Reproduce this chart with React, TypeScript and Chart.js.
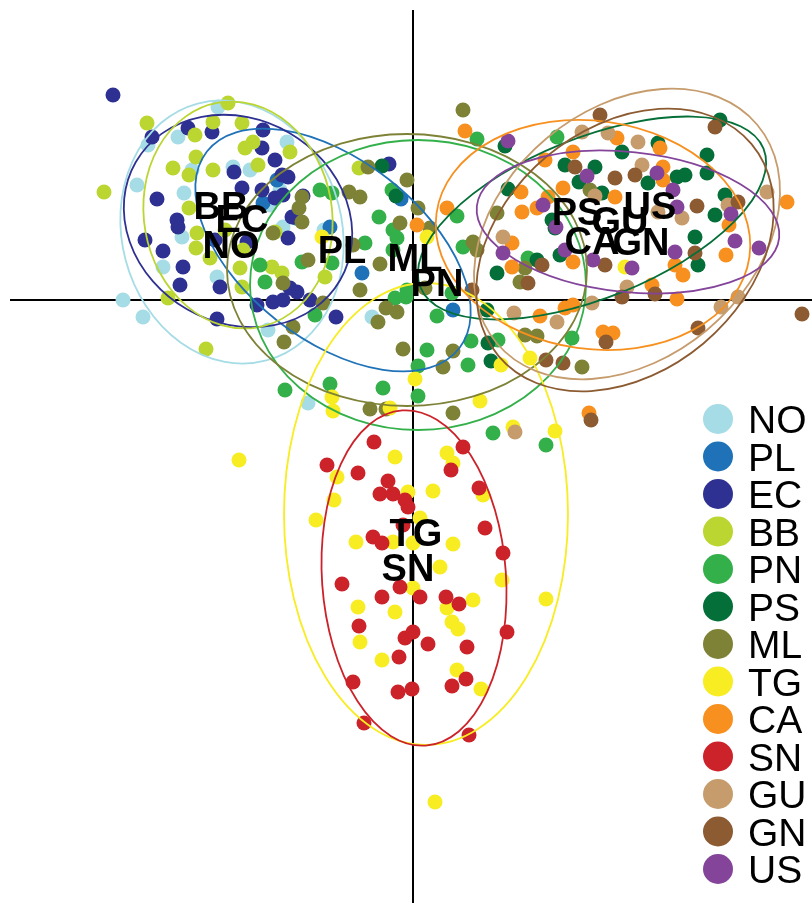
import React, { useEffect, useRef } from "react";
import { Chart, registerables } from "chart.js";

Chart.register(...registerables);

// Discriminant scores (first two axes) per population
const groupNames = ["NO", "PL", "EC", "BB", "PN", "PS", "ML", "TG", "CA", "SN", "GU", "GN", "US"];
const groupColors = [
  "#A6DCE5", "#1F72B8", "#2E3192", "#BBD531", "#33B04A", "#046F38", "#7E8237",
  "#F8EC22", "#F7901E", "#CC2229", "#C69C6D", "#8C5B32", "#83449A",
];

const NO = [[-290,0],[-270,-17],[-276,115],[-265,155],[-235,163],[-195,193],[-221,130],[-229,107],[-180,133],[-163,130],[-126,158],[-133,110],[-231,63],[-250,33],[-196,23],[-145,-30],[-105,-103],[-41,-17],[-89,70],[-130,73],[-143,95]];
const PL = [[-136,120],[-83,73],[-51,27],[-12,101],[40,-10],[-150,97],[-117,82]];
const EC = [[-300,205],[-261,163],[-225,172],[-150,170],[-151,152],[-138,140],[-179,128],[-131,125],[-125,123],[-151,110],[-171,112],[-256,101],[-138,102],[-130,105],[-121,83],[-236,80],[-235,73],[-268,60],[-250,49],[-166,58],[-125,62],[-230,33],[-123,12],[-116,8],[-193,13],[-233,15],[-156,-5],[-140,-2],[-130,0],[-103,0],[-196,-19],[-77,-17],[-24,136],[-201,168],[-110,104],[-198,60]];
const BB = [[-266,177],[-185,197],[-200,178],[-218,165],[-171,177],[-160,158],[-168,152],[-123,148],[-155,135],[-217,143],[-240,132],[-224,125],[-200,130],[-309,108],[-224,92],[-216,67],[-217,52],[-203,42],[-138,68],[-173,32],[-141,33],[-131,27],[-245,2],[-171,13],[-88,23],[-207,-49],[-54,132],[-170,50],[-188,70]];
const PN = [[-93,110],[-81,107],[-111,38],[-153,35],[-148,18],[-98,-15],[-128,-90],[-21,110],[-34,83],[-20,70],[-16,62],[-48,57],[-20,50],[-81,37],[-6,10],[-18,2],[-7,3],[24,-16],[39,7],[14,-50],[58,-41],[85,-40],[5,-66],[55,-65],[-83,-84],[-30,-88],[5,-96],[80,-133],[133,-145],[44,84],[64,161],[50,53],[144,163],[115,42],[159,-38]];
const PS = [[-31,134],[-17,104],[92,154],[84,27],[74,-10],[75,-43],[78,-61],[152,135],[182,133],[166,118],[189,107],[95,111],[139,80],[142,72],[147,45],[124,40],[209,148],[307,180],[245,157],[294,145],[264,123],[272,125],[294,127],[235,117],[312,105],[302,85],[282,63],[285,35]];
const ML = [[50,190],[-45,133],[-6,120],[-64,108],[-53,103],[5,92],[-13,77],[17,72],[-60,55],[-111,103],[-114,92],[-111,78],[-140,67],[-105,40],[-130,17],[-90,-3],[-120,-27],[-129,-42],[-33,36],[-53,10],[12,12],[-35,-22],[-27,-8],[-16,-12],[-10,-49],[40,-51],[30,-67],[-43,-109],[-27,-109],[40,-113],[60,58],[64,50],[84,87],[107,18],[112,-35],[124,-36],[169,-67],[177,110],[112,32]];
const TG = [[-91,63],[14,63],[2,-79],[-81,-97],[-80,-111],[-23,-108],[67,-101],[88,-65],[117,-58],[100,-127],[142,-131],[-174,-160],[-18,-157],[34,-153],[40,-163],[-76,-177],[-5,-192],[20,-191],[70,-195],[-79,-200],[-97,-220],[7,-218],[-57,-242],[-20,-242],[0,-243],[40,-244],[27,-267],[0,-288],[89,-280],[60,-300],[133,-299],[-55,-307],[-18,-312],[34,-308],[39,-322],[45,-329],[-53,-342],[-31,-360],[44,-370],[68,-389],[22,-502],[212,33]];
const CA = [[52,169],[34,92],[4,75],[160,148],[132,140],[150,112],[202,103],[204,162],[108,108],[135,103],[124,92],[109,88],[99,57],[160,38],[99,33],[127,-16],[152,-8],[160,-5],[190,-32],[200,-33],[239,15],[264,1],[247,152],[250,133],[250,120],[374,98],[316,75],[313,45],[262,35],[270,25],[176,-113]];
const SN = [[-39,-142],[50,-147],[-86,-165],[38,-170],[-55,-173],[-25,-181],[-33,-194],[-20,-194],[-8,-200],[-5,-207],[66,-188],[-10,-225],[72,-228],[-40,-237],[-31,-243],[90,-253],[-71,-284],[-13,-287],[-31,-297],[7,-297],[33,-297],[46,-304],[-54,-326],[-8,-338],[0,-332],[15,-344],[54,-347],[94,-332],[-14,-357],[53,-379],[39,-386],[-60,-382],[-15,-392],[-1,-389],[-49,-423],[56,-435]];
const GU = [[169,168],[195,167],[90,63],[225,158],[229,135],[354,108],[315,95],[269,82],[214,13],[325,3],[101,-13],[144,-22],[179,-3],[308,-7],[102,-132],[182,104],[245,88]];
const GN = [[187,185],[302,173],[162,133],[202,122],[222,125],[192,35],[129,35],[115,17],[59,10],[209,3],[242,6],[325,98],[284,94],[282,47],[389,-14],[285,-28],[193,-42],[133,-60],[150,-63],[178,-120]];
const US = [[95,159],[174,124],[130,95],[143,73],[90,47],[152,50],[180,40],[244,127],[260,110],[318,86],[264,93],[322,59],[346,52],[262,48],[219,32]];

const groupPoints = [NO, PL, EC, BB, PN, PS, ML, TG, CA, SN, GU, GN, US];

// Inertia ellipses: centre x, centre y, half-axis x, half-axis y, rotation (degrees, counter-clockwise)
const ellipseCx = [-181, -80, -175, -175, 5, 179, -6, 13, 180, 1, 214, 212, 215];
const ellipseCy = [68, 50, 79, 85, 15, 82, 30, -214, 65, -278, 66, 50, 78];
const ellipseRx = [110, 160, 118, 94, 168, 185, 180, 142, 158, 92, 170, 165, 152];
const ellipseRy = [133, 90, 102, 114, 145, 80, 136, 231, 114, 168, 125, 122, 70];
const ellipseAngle = [15, -38, -30, 10, 0, 22, 0, 0, -8, 4, 40, 40, -6];

// Group label anchors
const labelX = [-182, -71, -171, -192, 24, 164, 2, 3, 179, -5, 207, 228, 237];
const labelY = [56, 51, 82, 95, 18, 89, 43, -232, 60, -267, 80, 59, 95];

const FONT = '"Liberation Sans", Arial, Helvetica, sans-serif';

const decorPlugin = {
  id: "decor",
  beforeDatasetsDraw(chart: any) {
    const { ctx, chartArea, scales } = chart;
    const x0 = scales.x.getPixelForValue(0);
    const y0 = scales.y.getPixelForValue(0);
    ctx.save();
    ctx.strokeStyle = "#000";
    ctx.lineWidth = 2;
    ctx.beginPath();
    ctx.moveTo(chartArea.left + 10, y0);
    ctx.lineTo(chartArea.right, y0);
    ctx.moveTo(x0, chartArea.top + 10);
    ctx.lineTo(x0, chartArea.bottom);
    ctx.stroke();
    ctx.restore();
  },
  afterDatasetsDraw(chart: any) {
    const { ctx, scales } = chart;
    const sx = Math.abs(scales.x.getPixelForValue(1) - scales.x.getPixelForValue(0));
    const sy = Math.abs(scales.y.getPixelForValue(1) - scales.y.getPixelForValue(0));
    ctx.save();
    // ellipses
    for (let i = 0; i < groupNames.length; i++) {
      const cx = scales.x.getPixelForValue(ellipseCx[i]);
      const cy = scales.y.getPixelForValue(ellipseCy[i]);
      ctx.beginPath();
      ctx.ellipse(cx, cy, ellipseRx[i] * sx, ellipseRy[i] * sy, (-ellipseAngle[i] * Math.PI) / 180, 0, Math.PI * 2);
      ctx.strokeStyle = groupColors[i];
      ctx.lineWidth = 1.8;
      ctx.stroke();
    }
    // group labels
    ctx.fillStyle = "#000";
    ctx.font = `bold 38px ${FONT}`;
    ctx.textAlign = "center";
    ctx.textBaseline = "alphabetic";
    for (let i = 0; i < groupNames.length; i++) {
      const x = scales.x.getPixelForValue(labelX[i]);
      const y = scales.y.getPixelForValue(labelY[i]);
      ctx.fillText(groupNames[i], x, y + 13.5);
    }
    ctx.restore();
  },
  afterDraw(chart: any) {
    const { ctx, chartArea } = chart;
    ctx.save();
    ctx.font = `39px ${FONT}`;
    ctx.textAlign = "left";
    ctx.textBaseline = "alphabetic";
    const left = chartArea.right - 94;
    for (let i = 0; i < groupNames.length; i++) {
      const y = 419 + i * 37.5;
      ctx.beginPath();
      ctx.arc(left, y, 15, 0, Math.PI * 2);
      ctx.fillStyle = groupColors[i];
      ctx.fill();
      ctx.fillStyle = "#000";
      ctx.fillText(groupNames[i], left + 30, y + 14);
    }
    ctx.restore();
  },
};

export default function App() {
  const canvasRef = useRef<HTMLCanvasElement | null>(null);

  useEffect(() => {
    if (!canvasRef.current) return;
    const datasets = groupNames.map((name, i) => ({
      label: name,
      data: groupPoints[i].map(([x, y]) => ({ x, y })),
      backgroundColor: groupColors[i],
      pointBackgroundColor: groupColors[i],
      pointBorderWidth: 0,
      pointRadius: 7.5,
      pointHoverRadius: 7.5,
      showLine: false,
      order: groupNames.length - i,
    }));
    const chart = new Chart(canvasRef.current, {
      type: "scatter",
      data: { datasets },
      options: {
        animation: false,
        responsive: false,
        devicePixelRatio: 1,
        layout: { padding: 0, autoPadding: false },
        events: [],
        plugins: {
          legend: { display: false },
          title: { display: false },
          tooltip: { enabled: false },
        },
        scales: {
          x: { type: "linear", min: -413, max: 399, display: false },
          y: { type: "linear", min: -603, max: 300, display: false },
        },
      },
      plugins: [decorPlugin],
    });
    return () => chart.destroy();
  }, []);

  return (
    <div style={{ position: "absolute", left: 0, top: 0, width: 812, height: 903, background: "#fff" }}>
      <canvas ref={canvasRef} width={812} height={903} style={{ display: "block" }} />
    </div>
  );
}
